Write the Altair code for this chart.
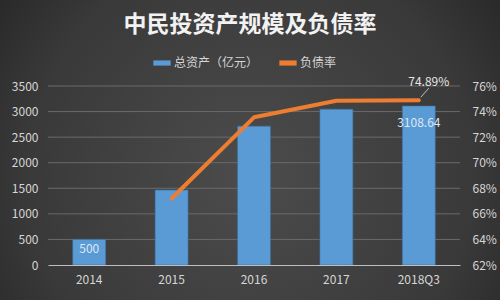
import altair as alt
import pandas as pd

cats = ["2014", "2015", "2016", "2017", "2018Q3"]
assets = [500, 1465, 2715, 3047, 3108.64]
debt = [None, 67.2, 73.55, 74.85, 74.89]
asset_labels = ["500", "", "", "", "3108.64"]
debt_labels = ["", "", "", "", "74.89%"]
left_ticks = [0, 500, 1000, 1500, 2000, 2500, 3000, 3500]
right_ticks = [62, 64, 66, 68, 70, 72, 74, 76]

df = pd.DataFrame({"cat": cats, "assets": assets, "debt": debt,
                   "alab": asset_labels, "dlab": debt_labels})
grid_df = pd.DataFrame({"assets": left_ticks[1:]})

FONT = "Noto Sans CJK SC"
LBL = "#d6d6d6"

x = alt.X("cat:N", sort=cats, title=None,
          scale=alt.Scale(paddingInner=0.6, paddingOuter=0.3),
          axis=alt.Axis(labelAngle=0, labelColor=LBL, labelFontSize=12, labelFont=FONT,
                        ticks=False, domain=True, domainColor="#bfbfbf", labelPadding=9,
                        zindex=1))

yl_scale = alt.Scale(domain=[0, 3500], nice=False)
yl = alt.Y("assets:Q", title=None, scale=yl_scale,
           axis=alt.Axis(values=left_ticks, format="d", labelColor=LBL, labelFontSize=12,
                         labelFont=FONT, ticks=False, domain=False, grid=False,
                         labelPadding=10, zindex=1))

bg = alt.Chart(df).mark_rect(
    fill=alt.Gradient(gradient="radial", x1=0.5, y1=0.55, r1=0.0, x2=0.5, y2=0.55, r2=0.75,
                      stops=[alt.GradientStop(color="#4c4c4c", offset=0),
                             alt.GradientStop(color="#393939", offset=0.6),
                             alt.GradientStop(color="#1c1c1c", offset=1)])
).encode(x=alt.value(-48), x2=alt.value(452), y=alt.value(-86), y2=alt.value(214))

grid = alt.Chart(grid_df).mark_rule(color="#6a6a6a", strokeWidth=1).encode(y=yl)

leg_scale = alt.Scale(domain=["总资产（亿元）", "负债率"], range=["#5b9bd5", "#ed7d31"])

bars = alt.Chart(df).mark_bar(
    color=alt.Gradient(gradient="linear", x1=0, y1=0, x2=0, y2=1,
                       stops=[alt.GradientStop(color="#6aa6dd", offset=0),
                              alt.GradientStop(color="#4287ca", offset=1)]),
    stroke="#3a6f9e", strokeWidth=0.6
).transform_calculate(series="'总资产（亿元）'").encode(
    x=x,
    y=yl,
    color=alt.Color("series:N", scale=leg_scale,
                    legend=alt.Legend(title=None, orient="none", direction="horizontal",
                                      legendX=105, legendY=-32, labelColor=LBL, labelFontSize=12,
                                      labelFont=FONT, symbolType="M-1,-0.3H1V0.3H-1Z",
                                      symbolSize=300, symbolStrokeWidth=0, columnPadding=20,
                                      labelOffset=3)),
)

bar_text = alt.Chart(df).mark_text(color="#dde8f4", fontSize=12, font=FONT, baseline="middle").encode(
    x=x, y=yl, text="alab:N")
bar_text_500 = bar_text.transform_filter("datum.cat == '2014'").encode(
    y=alt.value(163))
bar_text_top = bar_text.transform_filter("datum.cat == '2018Q3'").mark_text(
    color="#dde8f4", fontSize=12, font=FONT, baseline="middle", dy=17)

left = alt.layer(grid, bars, bar_text_500, bar_text_top)

yr_scale = alt.Scale(domain=[62, 76], nice=False)
yr = alt.Y("debt:Q", title=None, scale=yr_scale,
           axis=alt.Axis(values=right_ticks, labelExpr="datum.value + '%'",
                         labelColor=LBL, labelFontSize=12, labelFont=FONT, ticks=False,
                         domain=False, grid=False, orient="right", labelPadding=12, zindex=1))

line = alt.Chart(df).transform_filter("isValid(datum.debt)").mark_line(
    color="#ed7d31", strokeWidth=4, strokeCap="round", strokeJoin="round"
).encode(x=x, y=yr)

lab_df = df[df["dlab"] != ""]

leader = alt.Chart(df).transform_filter("datum.dlab != ''").mark_rule(
    color="#bfbfbf", strokeWidth=1, xOffset=2, x2Offset=10, yOffset=-3, y2Offset=-12
).encode(x=x, x2=alt.X2("cat:N"), y=yr, y2=alt.Y2("debt:Q"))

line_text = alt.Chart(df).transform_filter("datum.dlab != ''").mark_text(
    color="#e6e6e6", fontSize=12, font=FONT, dx=10, dy=-18
).encode(x=x, y=yr, text="dlab:N")

right = alt.layer(line, leader, line_text)

chart = alt.layer(bg, left, right).resolve_scale(y="independent").properties(
    width=412, height=179,
    autosize=alt.AutoSizeParams(type="none"),
    padding={"left": 48, "top": 86, "right": 40, "bottom": 35},
    background="#2a2a2a",
    title=alt.TitleParams("中民投资产规模及负债率", fontSize=23, font=FONT, fontWeight="bold",
                          color="#f2f2f2", anchor="middle", offset=-37, dx=-4),
).configure_view(stroke=None)

chart.save("out.html", embed_options={"renderer": "svg", "actions": False})
